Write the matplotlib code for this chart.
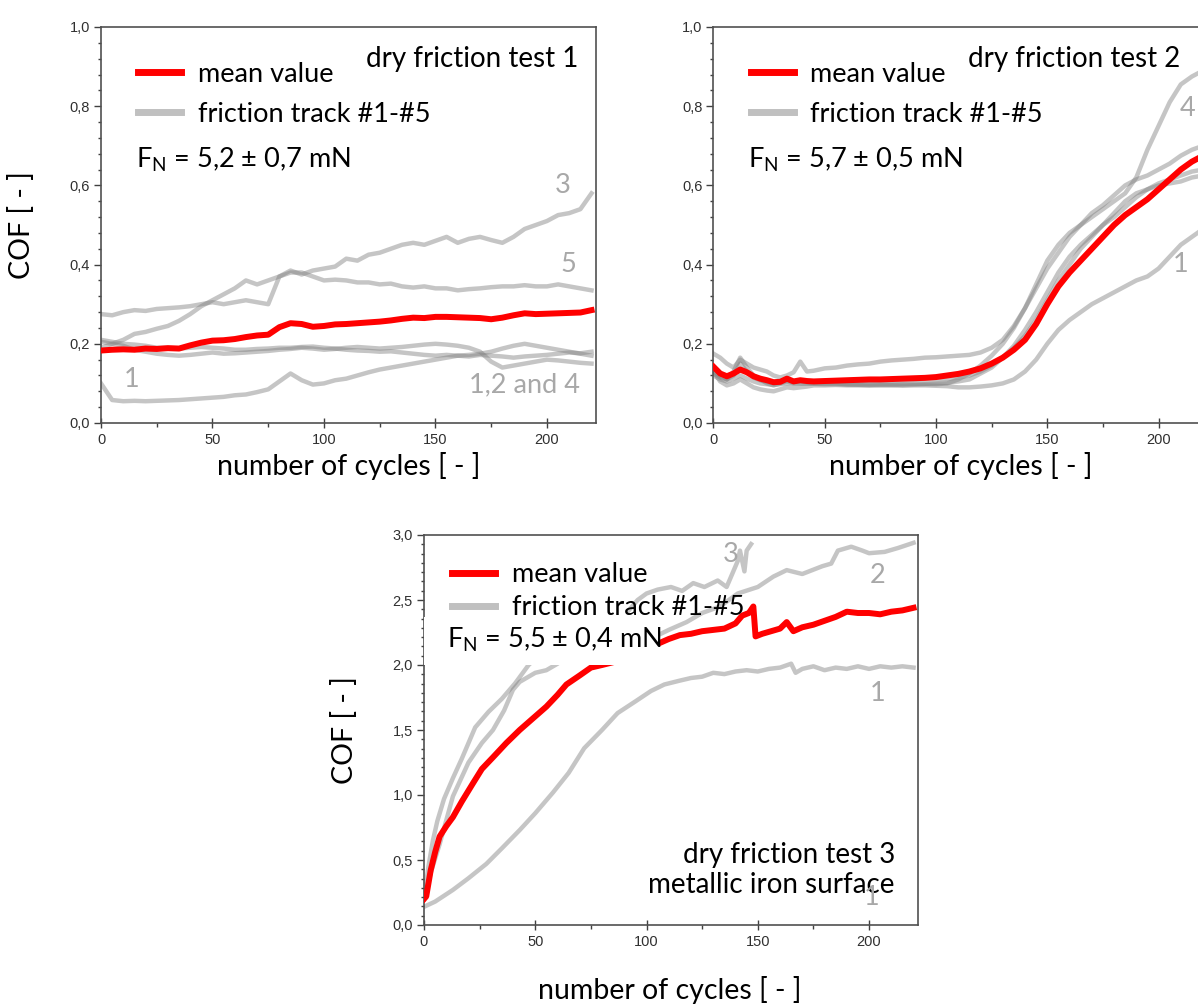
#!/usr/bin/env python3
# -*- coding: utf-8 -*-

import matplotlib
matplotlib.use('Agg')
import matplotlib.pyplot as plt
from matplotlib.ticker import MultipleLocator, AutoMinorLocator, FuncFormatter
from matplotlib.lines import Line2D
from matplotlib.patches import Rectangle

plt.rcParams['font.family'] = ['Lato', 'DejaVu Sans']
plt.rcParams['mathtext.default'] = 'regular'

# ---------------- test 1 ----------------
cyc1 = list(range(0, 225, 5))
mean1 = [.183, .185, .186, .185, .188, .187, .189, .188, .196, .203, .208, .209, .212, .217, .221,
         .223, .242, .252, .250, .243, .245, .249, .250, .252, .254, .256, .259, .263, .266, .265,
         .268, .268, .267, .266, .265, .262, .266, .272, .277, .275, .276, .277, .278, .279, .285]
track1_1 = [.100, .058, .055, .056, .055, .056, .057, .058, .060, .062, .064, .066, .070, .072, .078,
            .085, .105, .125, .108, .097, .100, .108, .112, .120, .128, .135, .140, .145, .150, .155,
            .160, .165, .170, .172, .175, .180, .188, .195, .200, .195, .190, .185, .180, .175, .170]
track1_2 = [.210, .205, .200, .198, .195, .190, .190, .188, .190, .192, .190, .188, .185, .185, .187,
            .188, .190, .190, .192, .193, .190, .188, .185, .183, .182, .180, .181, .178, .175, .172,
            .170, .172, .170, .168, .172, .170, .168, .165, .168, .170, .172, .175, .178, .176, .180]
track1_3 = [.205, .200, .210, .225, .230, .238, .245, .258, .275, .295, .310, .325, .340, .360, .350,
            .360, .370, .385, .375, .385, .390, .395, .415, .410, .425, .430, .440, .450, .455, .450,
            .460, .470, .455, .465, .470, .462, .455, .470, .490, .500, .510, .525, .530, .540, .580]
track1_4 = [.190, .200, .195, .185, .180, .175, .172, .170, .172, .175, .178, .175, .176, .178, .180,
            .182, .185, .187, .190, .188, .185, .187, .190, .192, .190, .188, .190, .192, .195, .198,
            .200, .198, .195, .190, .180, .155, .140, .145, .150, .155, .160, .158, .155, .152, .150]
track1_5 = [.275, .272, .280, .285, .283, .288, .290, .292, .295, .300, .305, .300, .305, .310, .305,
            .300, .370, .380, .380, .370, .360, .362, .360, .355, .355, .350, .352, .345, .342, .345,
            .340, .340, .335, .338, .340, .343, .345, .345, .348, .345, .345, .350, .345, .340, .335]

# ---------------- test 2 ----------------
cyc2 = list(range(0, 45, 3)) + list(range(45, 225, 5))
mean2 = [.142, .125, .118, .125, .135, .128, .118, .112, .108, .103, .104, .112, .105, .108, .106,
         .105, .106, .107, .108, .109, .110, .110, .111, .112, .113, .114, .116, .120, .124, .130,
         .138, .150, .165, .185, .210, .250, .300, .345, .380, .410, .440, .470, .500, .525, .545,
         .565, .590, .615, .640, .660, .675]
track2_1 = [.130, .105, .095, .100, .110, .100, .090, .085, .082, .080, .085, .090, .088, .090, .092,
            .095, .095, .096, .095, .095, .094, .095, .095, .094, .095, .095, .094, .093, .090, .090,
            .092, .095, .100, .110, .130, .160, .200, .235, .260, .280, .300, .315, .330, .345, .360,
            .370, .390, .420, .450, .470, .490]
track2_2 = [.175, .165, .150, .140, .160, .150, .140, .135, .130, .120, .115, .120, .128, .155, .130,
            .132, .138, .140, .145, .148, .150, .155, .158, .160, .162, .165, .166, .168, .170, .172,
            .178, .190, .210, .245, .290, .340, .390, .430, .470, .500, .530, .550, .575, .600, .615,
            .625, .640, .655, .675, .690, .700]
track2_3 = [.120, .110, .105, .112, .120, .112, .105, .100, .098, .096, .098, .100, .099, .100, .100,
            .099, .098, .098, .097, .097, .097, .098, .098, .098, .099, .099, .100, .102, .105, .110,
            .125, .140, .165, .190, .220, .260, .310, .360, .400, .440, .470, .500, .530, .560, .580,
            .590, .600, .605, .610, .620, .625]
track2_4 = [.130, .120, .110, .130, .165, .140, .120, .110, .100, .095, .100, .105, .100, .100, .100,
            .100, .100, .100, .098, .097, .097, .096, .096, .097, .097, .098, .098, .100, .110, .125,
            .145, .170, .200, .240, .290, .350, .410, .450, .480, .500, .520, .540, .560, .580, .620,
            .690, .750, .810, .855, .875, .890]
track2_5 = [.125, .115, .110, .120, .150, .130, .115, .108, .104, .100, .102, .108, .104, .106, .104,
            .104, .105, .105, .106, .106, .107, .107, .108, .108, .109, .110, .110, .112, .115, .120,
            .130, .145, .165, .195, .235, .280, .330, .380, .420, .450, .475, .500, .520, .545, .570,
            .590, .605, .615, .625, .635, .640]

# ---------------- test 3 ----------------
cyc3_mean = [0, 1, 3, 5, 7, 10, 13, 17, 22, 26, 31, 37, 43, 49, 55, 60, 64, 70, 75, 80, 87, 90, 95,
             100, 106, 110, 115, 120, 125, 130, 135, 140, 143, 146, 148, 149, 152, 156, 160, 163,
             166, 170, 175, 180, 185, 190, 195, 200, 205, 210, 215, 220]
mean3 = [.20, .22, .42, .56, .68, .76, .83, .95, 1.09, 1.20, 1.29, 1.40, 1.50, 1.59, 1.68, 1.77, 1.85,
         1.92, 1.98, 2.00, 2.03, 2.04, 2.08, 2.12, 2.17, 2.20, 2.23, 2.24, 2.26, 2.27, 2.28, 2.32,
         2.38, 2.40, 2.45, 2.22, 2.24, 2.26, 2.28, 2.33, 2.26, 2.29, 2.31, 2.34, 2.37, 2.41, 2.40,
         2.40, 2.39, 2.41, 2.42, 2.44]
cyc3_1 = [0, 5, 13, 20, 28, 35, 43, 50, 58, 65, 72, 80, 87, 95, 102, 108, 115, 120, 125, 130, 135, 140,
          145, 150, 155, 160, 165, 167, 170, 175, 180, 185, 190, 195, 200, 205, 210, 215, 220]
track3_1 = [.14, .18, .27, .36, .47, .59, .73, .86, 1.02, 1.17, 1.36, 1.50, 1.63, 1.72, 1.80, 1.85,
            1.88, 1.90, 1.91, 1.94, 1.93, 1.95, 1.96, 1.95, 1.97, 1.98, 2.01, 1.94, 1.97, 1.99, 1.96,
            1.98, 1.97, 1.99, 1.97, 1.99, 1.98, 1.99, 1.98]
cyc3_2 = [104, 110, 118, 125, 133, 141, 150, 157, 163, 170, 179, 183, 186, 192, 197, 200, 207, 213, 220]
track3_2 = [2.22, 2.27, 2.33, 2.40, 2.45, 2.55, 2.60, 2.68, 2.73, 2.70, 2.76, 2.78, 2.88, 2.91, 2.88,
            2.86, 2.87, 2.90, 2.94]
cyc3_3 = [92, 96, 100, 105, 111, 116, 121, 126, 132, 136, 139, 141, 142, 144, 145, 147]
track3_3 = [2.42, 2.50, 2.55, 2.58, 2.60, 2.57, 2.63, 2.60, 2.65, 2.60, 2.72, 2.80, 2.88, 2.72, 2.88, 2.93]
cyc3_4 = [0, 2, 4, 6, 9, 13, 17, 23, 29, 35, 41, 47, 52]
track3_4 = [.20, .45, .65, .80, .97, 1.13, 1.28, 1.52, 1.64, 1.74, 1.86, 2.00, 2.08]
cyc3_5 = [0, 3, 7, 13, 20, 26, 31, 36, 40, 43, 47, 50, 55, 60, 63]
track3_5 = [.20, .40, .62, .99, 1.25, 1.40, 1.50, 1.65, 1.81, 1.87, 1.91, 1.94, 1.96, 2.01, 2.05]

RED = '#ff0000'
GRAY = '#808080'
LEG_FONT = 19.5
TITLE_FONT = 20
LABEL_FONT = 20.5


def comma_fmt(digits):
    return FuncFormatter(lambda v, pos: f'{v:.{digits}f}'.replace('.', ','))


def style_axes(ax, ymax, ymajor, yminor_n):
    """Achsen wie im Origin-Stil formatieren"""
    ax.set_xlim(0, 222)
    ax.set_ylim(0, ymax)
    ax.xaxis.set_major_locator(MultipleLocator(50))
    ax.xaxis.set_minor_locator(AutoMinorLocator(2))
    ax.yaxis.set_major_locator(MultipleLocator(ymajor))
    ax.yaxis.set_minor_locator(AutoMinorLocator(yminor_n))
    ax.xaxis.set_major_formatter(FuncFormatter(lambda v, pos: f'{v:.0f}'))
    ax.yaxis.set_major_formatter(comma_fmt(1))
    ax.tick_params(axis='x', which='major', direction='inout', length=7, width=1, colors='#404040',
                   labelsize=10.5, pad=4)
    ax.tick_params(axis='x', which='minor', direction='out', length=3, width=1, colors='#404040')
    ax.tick_params(axis='y', which='major', direction='out', length=5, width=1, colors='#404040',
                   labelsize=10.5, pad=3)
    ax.tick_params(axis='y', which='minor', direction='out', length=2.5, width=1, colors='#404040')
    for lab in ax.get_xticklabels() + ax.get_yticklabels():
        lab.set_family('Liberation Sans')
        lab.set_color('#303030')
    for sp in ax.spines.values():
        sp.set_color('#505050')
        sp.set_linewidth(1.2)


def add_legend(ax, x, y, spacing):
    handles = [Line2D([], [], color=RED, lw=5),
               Line2D([], [], color='#c0c0c0', lw=5)]
    ax.legend(handles, ['mean value', 'friction track #1-#5'], loc='upper left',
              bbox_to_anchor=(x, y), frameon=False, borderpad=0, borderaxespad=0,
              handlelength=1.6, handletextpad=0.6, labelspacing=spacing,
              prop={'size': LEG_FONT})


def plot_tracks(ax, series):
    for xs, ys in series:
        ax.plot(xs, ys, color=GRAY, lw=3.2, alpha=0.45, zorder=2)


def set_labels(ax, ylabel, xy_x, xy_y):
    if ylabel:
        ax.set_ylabel('COF [ - ]', fontsize=LABEL_FONT)
        ax.yaxis.label.set_va('center')
        ax.yaxis.set_label_coords(-0.16, 0.5)
    ax.set_xlabel('number of cycles [ - ]', fontsize=LABEL_FONT)
    ax.xaxis.label.set_va('center')
    ax.xaxis.set_label_coords(xy_x, xy_y)


def main():
    fig = plt.figure(figsize=(11.98, 10.07), dpi=100)
    W, H = 1198, 1007

    # Positionen in Pixeln aus der Vorlage
    ax1 = fig.add_axes([101 / W, 1 - 423 / H, 495 / W, 396 / H])
    ax2 = fig.add_axes([713.5 / W, 1 - 423 / H, 494 / W, 396 / H])
    ax3 = fig.add_axes([424 / W, 1 - 925 / H, 494 / W, 390 / H])
    gray_txt = dict(color='#a8a8a8', fontsize=LEG_FONT, ha='center', va='center')

    # ---- Test 1
    plot_tracks(ax1, [(cyc1, t) for t in (track1_1, track1_2, track1_3, track1_4, track1_5)])
    ax1.plot(cyc1, mean1, color=RED, lw=4.3, zorder=3)
    style_axes(ax1, 1.0, 0.2, 5)
    add_legend(ax1, 0.075, 0.912, 0.55)
    ax1.text(0.07, 0.665, '$F_N$ = 5,2 ± 0,7 mN', transform=ax1.transAxes,
             fontsize=LEG_FONT, va='center', ha='left')
    ax1.text(0.965, 0.918, 'dry friction test 1', transform=ax1.transAxes,
             fontsize=TITLE_FONT, va='center', ha='right')
    for txt, cx, cy in [('3', 207, 0.60), ('5', 209.5, 0.40), ('1', 13.8, 0.11), ('1,2 and 4', 190, 0.096)]:
        ax1.text(cx, cy, txt, **gray_txt)
    set_labels(ax1, True, 0.5, -0.109)

    # ---- Test 2 (rechts angeschnitten wie in der Vorlage)
    plot_tracks(ax2, [(cyc2, t) for t in (track2_1, track2_2, track2_3, track2_4, track2_5)])
    ax2.plot(cyc2, mean2, color=RED, lw=4.3, zorder=3)
    style_axes(ax2, 1.0, 0.2, 5)
    add_legend(ax2, 0.075, 0.912, 0.55)
    ax2.text(0.07, 0.665, '$F_N$ = 5,7 ± 0,5 mN', transform=ax2.transAxes,
             fontsize=LEG_FONT, va='center', ha='left')
    ax2.text(0.515, 0.918, 'dry friction test 2', transform=ax2.transAxes,
             fontsize=TITLE_FONT, va='center', ha='left')
    for txt, cx, cy in [('4', 213, 0.795), ('1', 210, 0.40)]:
        ax2.text(cx, cy, txt, **gray_txt)
    set_labels(ax2, False, 0.5, -0.109)

    # ---- Test 3
    plot_tracks(ax3, [(cyc3_1, track3_1), (cyc3_2, track3_2), (cyc3_3, track3_3),
                      (cyc3_4, track3_4), (cyc3_5, track3_5)])
    ax3.plot(cyc3_mean, mean3, color=RED, lw=4.3, zorder=3)
    # weisser Kasten hinter der Beschriftung verdeckt die Kurven
    ax3.add_patch(Rectangle((0, 2.0), 106, 0.37, facecolor='white', edgecolor='none', zorder=4))
    style_axes(ax3, 3.0, 0.5, 7)
    add_legend(ax3, 0.057, 0.93, 0.3)
    ax3.text(0.047, 0.73, '$F_N$ = 5,5 ± 0,4 mN', transform=ax3.transAxes,
             fontsize=LEG_FONT, va='center', ha='left', zorder=6)
    ax3.text(0.953, 0.18, 'dry friction test 3', transform=ax3.transAxes,
             fontsize=TITLE_FONT, va='center', ha='right')
    ax3.text(0.953, 0.103, 'metallic iron surface', transform=ax3.transAxes,
             fontsize=TITLE_FONT, va='center', ha='right')
    for txt, cx, cy in [('3', 138, 2.85), ('2', 204, 2.69), ('1', 204, 1.78), ('1', 201, 0.21)]:
        ax3.text(cx, cy, txt, **gray_txt)
    set_labels(ax3, True, 0.498, -0.167)

    fig.savefig('out.png', dpi=100, facecolor='white')
    plt.close(fig)


if __name__ == "__main__":
    main()
